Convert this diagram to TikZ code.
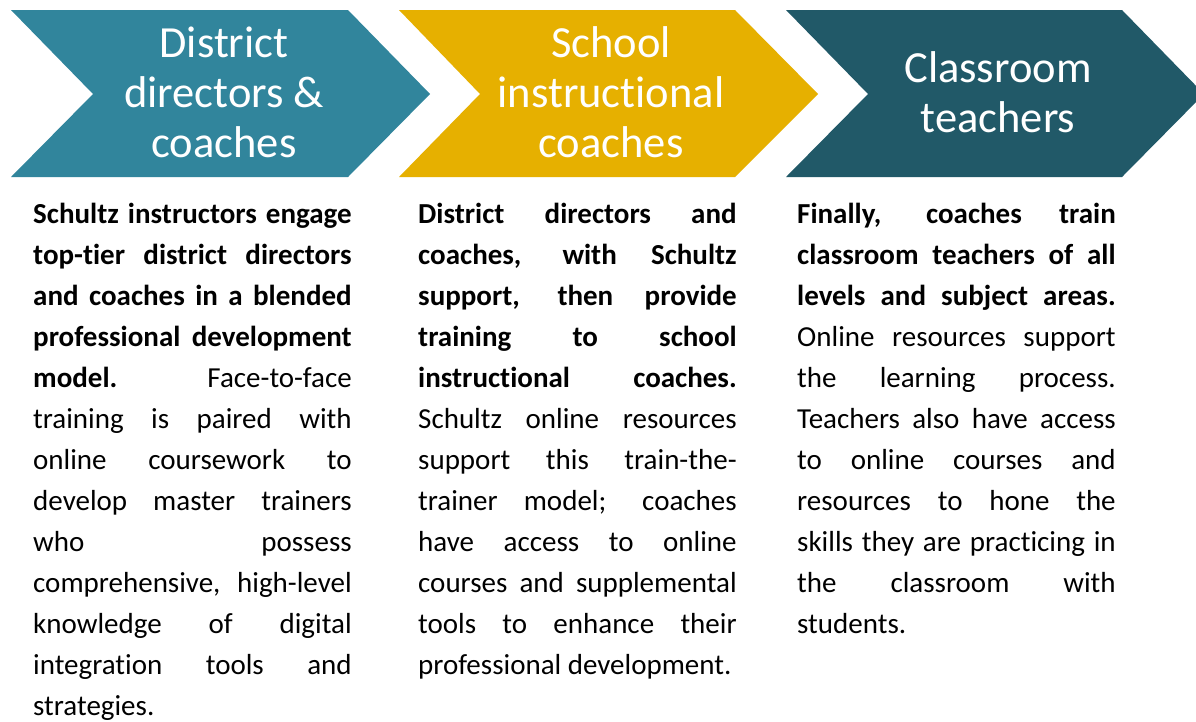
\documentclass[tikz,border=0pt]{standalone}
\usepackage{fontspec}
\setmainfont{Carlito}[Ligatures=NoCommon]
\hyphenpenalty=10000
\exhyphenpenalty=10000
\tolerance=10000
\hbadness=10000
\definecolor{cA}{HTML}{31859C}
\definecolor{cB}{HTML}{E6B000}
\definecolor{cC}{HTML}{215968}
\tikzset{
  head/.style={text=white, align=center, inner sep=0pt, font=\fontsize{44.5}{50}\selectfont},
  body/.style={anchor=north west, text width=318.5pt, align=justify, inner sep=0pt, font=\fontsize{29}{41}\selectfont},
}
\begin{document}
\begin{tikzpicture}[x=1pt,y=1pt]
\useasboundingbox (0,0) rectangle (1196,-721);
\fill[white] (0,0) rectangle (1196,-721);
\begin{scope}
\clip (0,0) rectangle (1196,-721);
\fill[cA] (11,-10) -- (348,-10) -- (430,-94) -- (348,-177) -- (11,-177) -- (93,-94) -- cycle;
\fill[cB] (399,-10) -- (735,-10) -- (818,-94) -- (735,-177) -- (399,-177) -- (480,-94) -- cycle;
\fill[cC] (786,-10) -- (1122,-10) -- (1204,-94) -- (1122,-177) -- (786,-177) -- (868,-94) -- cycle;
\end{scope}
\node[head] (h1) at (224,-92) {District\\directors \&\\coaches};
\node[head] (h2) at (611,-92) {School\\instructional\\coaches};
\node[head] (h3) at (998,-92) {Classroom\\teachers};

\node[body] (t1) at (33,-194.3) {\strut\textbf{Schultz instructors engage\linebreak
top-tier district directors\linebreak
and coaches in a blended\linebreak
professional development\linebreak
model.} Face-to-face\linebreak
training is paired with\linebreak
online coursework to\linebreak
develop master trainers\linebreak
who possess\linebreak
comprehensive, high-level\linebreak
knowledge of digital\linebreak
integration tools and\linebreak
strategies.};

\node[body] (t2) at (418,-194.3) {\strut\textbf{District directors and\linebreak
coaches, with Schultz\linebreak
support, then provide\linebreak
training to school\linebreak
instructional coaches.}\linebreak
Schultz online resources\linebreak
support this train-the-\linebreak
trainer model; coaches\linebreak
have access to online\linebreak
courses and supplemental\linebreak
tools to enhance their\linebreak
professional development.};

\node[body] (t3) at (797,-194.3) {\strut\textbf{Finally, coaches train\linebreak
classroom teachers of all\linebreak
levels and subject areas.}\linebreak
Online resources support\linebreak
the learning process.\linebreak
Teachers also have access\linebreak
to online courses and\linebreak
resources to hone the\linebreak
skills they are practicing in\linebreak
the classroom with\linebreak
students.};
\end{tikzpicture}
\end{document}
